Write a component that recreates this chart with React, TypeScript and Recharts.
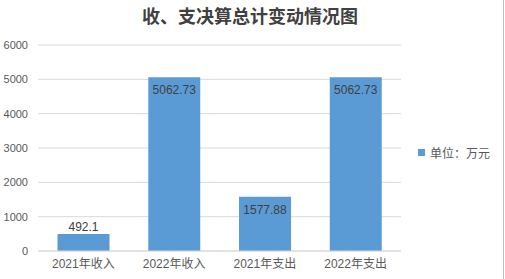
import React from 'react';
import { BarChart, Bar, XAxis, YAxis, CartesianGrid, Legend, LabelList } from 'recharts';

const categories = ['2021年收入', '2022年收入', '2021年支出', '2022年支出'];
const amounts = [492.1, 5062.73, 1577.88, 5062.73];
const yTicks = [0, 1000, 2000, 3000, 4000, 5000, 6000];

const FONT = '"Liberation Sans", "Noto Sans CJK SC", sans-serif';
const BLUE = '#5b9bd5';

const data = categories.map((name, i) => ({ name, value: amounts[i] }));

// Excel puts the label inside the top of the bar, or above it when the bar is too short
const BarValueLabel = (props: any) => {
  const { x, y, width, height, value } = props;
  const cy = height < 30 ? y - 7 : y + 13;
  return (
    <text x={x + width / 2} y={cy} textAnchor="middle" dominantBaseline="central" fill="#404040" fontSize={12} fontFamily={FONT}>
      {value}
    </text>
  );
};

const LegendBox = () => (
  <div style={{ display: 'flex', alignItems: 'center', fontFamily: FONT, fontSize: 12, color: '#595959' }}>
    <span style={{ display: 'inline-block', width: 7, height: 7, background: BLUE, marginRight: 5 }} />
    单位：万元
  </div>
);

export default function App() {
  return (
    <div style={{ position: 'absolute', left: 0, top: 0, width: 505, height: 279, background: '#fff' }}>
      <div
        style={{
          position: 'absolute', left: 0, top: 6, width: 500, textAlign: 'center',
          fontFamily: FONT, fontSize: 18, fontWeight: 'bold', color: '#404040', lineHeight: '22px',
        }}
      >
        收、支决算总计变动情况图
      </div>
      <div style={{ position: 'absolute', left: 503, top: 0, width: 1, height: 279, background: '#bfbfbf' }} />
      <BarChart width={505} height={279} data={data} margin={{ top: 45, right: 14, bottom: 0, left: 0 }} barCategoryGap="21.5%">
        <CartesianGrid vertical={false} stroke="#d9d9d9" />
        <XAxis
          dataKey="name"
          height={28}
          axisLine={{ stroke: '#d9d9d9' }}
          tickLine={false}
          tick={{ fill: '#595959', fontSize: 12, fontFamily: FONT }}
          interval={0}
        />
        <YAxis
          width={38}
          domain={[0, 6000]}
          ticks={yTicks}
          axisLine={false}
          tickLine={false}
          tick={{ fill: '#595959', fontSize: 11, fontFamily: FONT }}
          tickMargin={4}
        />
        <Legend
          layout="vertical"
          align="right"
          verticalAlign="top"
          content={<LegendBox />}
          wrapperStyle={{ left: 418, top: 144, width: 90 }}
        />
        <Bar dataKey="value" name="单位：万元" fill={BLUE} isAnimationActive={false}>
          <LabelList dataKey="value" content={<BarValueLabel />} />
        </Bar>
      </BarChart>
    </div>
  );
}
